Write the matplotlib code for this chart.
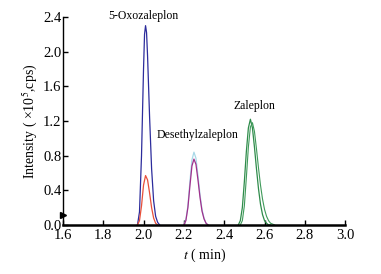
import numpy as np
import matplotlib
matplotlib.use("Agg")
import matplotlib.pyplot as plt

plt.rcParams['font.family'] = ['Liberation Serif', 'DejaVu Serif']
plt.rcParams['mathtext.fontset'] = 'stix'

# peak traces (t in min, intensity in 1e5 cps)
oxo_t = [1.97, 1.98, 1.99, 2.00, 2.005, 2.01, 2.015, 2.02, 2.03, 2.04, 2.05, 2.06, 2.07, 2.08]
oxo_i = [0.0, 0.15, 0.80, 1.80, 2.20, 2.30, 2.22, 1.95, 1.25, 0.65, 0.28, 0.10, 0.03, 0.0]

oxo2_t = [1.97, 1.98, 1.99, 2.00, 2.01, 2.02, 2.03, 2.04, 2.05, 2.06, 2.07]
oxo2_i = [0.0, 0.05, 0.22, 0.46, 0.57, 0.52, 0.37, 0.20, 0.08, 0.02, 0.0]

des_t = [2.20, 2.21, 2.22, 2.23, 2.24, 2.25, 2.26, 2.27, 2.28, 2.29, 2.30, 2.31, 2.32]
des_i = [0.0, 0.05, 0.20, 0.45, 0.68, 0.76, 0.70, 0.52, 0.32, 0.16, 0.07, 0.02, 0.0]
des2_i = [0.0, 0.06, 0.22, 0.50, 0.75, 0.84, 0.77, 0.57, 0.35, 0.18, 0.08, 0.02, 0.0]

zal_t = [2.47, 2.48, 2.49, 2.50, 2.51, 2.52, 2.53, 2.54, 2.55, 2.56, 2.57, 2.58, 2.59, 2.60, 2.61, 2.62, 2.63]
zal_i = [0.0, 0.05, 0.20, 0.50, 0.85, 1.12, 1.22, 1.12, 0.90, 0.65, 0.42, 0.24, 0.12, 0.05, 0.02, 0.0, 0.0]
zal2_t = [2.48, 2.49, 2.50, 2.51, 2.52, 2.53, 2.54, 2.55, 2.56, 2.57, 2.58, 2.59, 2.60, 2.61, 2.62, 2.63, 2.64, 2.65]
zal2_i = [0.0, 0.05, 0.22, 0.55, 0.90, 1.13, 1.18, 1.08, 0.88, 0.66, 0.46, 0.30, 0.18, 0.10, 0.05, 0.02, 0.01, 0.0]

xticks = [1.6, 1.8, 2.0, 2.2, 2.4, 2.6, 2.8, 3.0]
yticks = [0.0, 0.4, 0.8, 1.2, 1.6, 2.0, 2.4]

fig = plt.figure(figsize=(3.81, 2.74), dpi=100)
ax = fig.add_axes([0.165, 0.179, 0.741, 0.759])

ax.plot(oxo_t, oxo_i, color='#2c2c9c', lw=0.9)
ax.plot(oxo2_t, oxo2_i, color='#e8503a', lw=0.9)
ax.plot(des_t, des2_i, color='#a8d8e8', lw=0.9)
ax.plot(des_t, des_i, color='#a0308c', lw=0.9)
ax.plot(zal_t, zal_i, color='#2e8b4a', lw=0.9)
ax.plot(zal2_t, zal2_i, color='#3f9a5a', lw=0.8)

ax.text(2.0, 2.34, '5-Oxozaleplon', fontsize=8.5, ha='center', va='bottom')
ax.text(2.27, 0.97, 'Desethylzaleplon', fontsize=8.5, ha='center', va='bottom')
ax.text(2.55, 1.3, 'Zaleplon', fontsize=8.5, ha='center', va='bottom')

ax.plot([1.603], [0.12], marker='>', color='k', ms=4, clip_on=False)

ax.set_xlim(1.6, 3.0)
ax.set_ylim(0, 2.4)
ax.set_xticks(xticks)
ax.set_yticks(yticks)
ax.set_xticklabels([f'{v:.1f}' for v in xticks])
ax.set_yticklabels([f'{v:.1f}' for v in yticks])
ax.tick_params(direction='in', labelsize=10.5, length=3.5, width=1.0)
ax.tick_params(axis='x', pad=3)
ax.tick_params(axis='y', pad=1)
ax.spines['top'].set_visible(False)
ax.spines['right'].set_visible(False)
ax.spines['bottom'].set_linewidth(1.8)
ax.spines['left'].set_linewidth(1.0)

ax.set_xlabel('$t$ ( min)', fontsize=10, labelpad=3)
ax.set_ylabel('Intensity ( ×10$^5$,cps)', fontsize=10, labelpad=3)

fig.savefig('out.png', dpi=100)
